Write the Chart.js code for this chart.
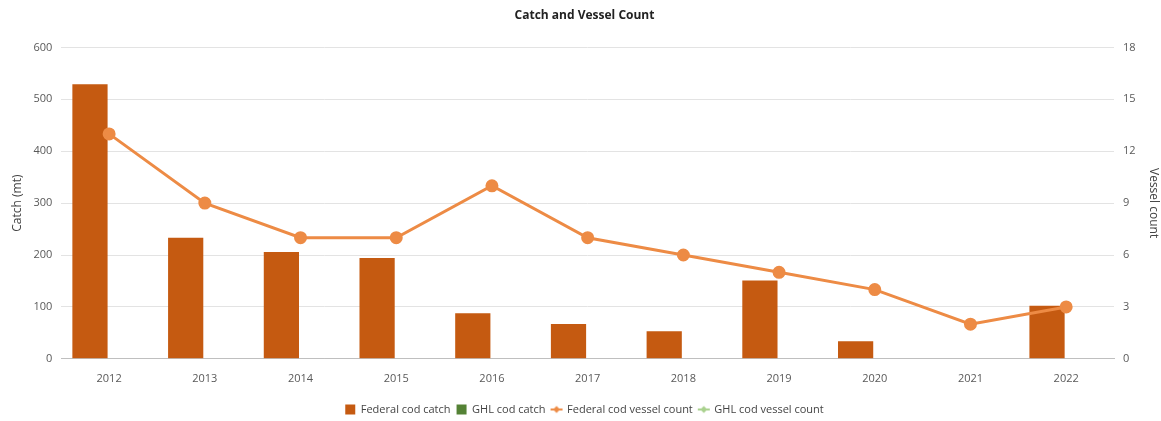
<!DOCTYPE html>
<html>
<head>
<meta charset="utf-8">
<script src="https://cdn.jsdelivr.net/npm/chart.js@4.4.1/dist/chart.umd.min.js"></script>
<style>
  html, body { margin: 0; padding: 0; background: #fff; }
  #wrap { width: 1161px; height: 421px; }
</style>
</head>
<body>
<div id="wrap"><canvas id="catchChart"></canvas></div>
<script>
// Data
const years = ['2012', '2013', '2014', '2015', '2016', '2017', '2018', '2019', '2020', '2021', '2022'];
const federalCatch = [529, 233, 206, 194, 88, 67, 53, 151, 34, 0, 102];
const ghlCatch = [0, 0, 0, 0, 0, 0, 0, 0, 0, 0, 0];
const federalVessels = [13, 9, 7, 7, 10, 7, 6, 5, 4, 2, 3];
const ghlVessels = [null, null, null, null, null, null, null, null, null, null, null];

const fedBarColor = '#c55a11';
const ghlBarColor = '#548235';
const fedLineColor = '#ed8b45';
const ghlLineColor = '#a9d18e';

// legend marker: short line with a dot
function lineMarker(color) {
    const c = document.createElement('canvas');
    c.width = 14; c.height = 10;
    const ctx = c.getContext('2d');
    ctx.strokeStyle = color;
    ctx.lineWidth = 2;
    ctx.beginPath();
    ctx.moveTo(1, 5); ctx.lineTo(13, 5);
    ctx.stroke();
    ctx.fillStyle = color;
    ctx.beginPath();
    ctx.moveTo(7, 1.5); ctx.lineTo(10.5, 5); ctx.lineTo(7, 8.5); ctx.lineTo(3.5, 5);
    ctx.closePath();
    ctx.fill();
    return c;
}

const fontFamily = "'Open Sans', 'Noto Sans', sans-serif";

const ctx = document.getElementById('catchChart').getContext('2d');
new Chart(ctx, {
    data: {
        labels: years,
        datasets: [
            {
                type: 'bar',
                label: 'Federal cod catch',
                data: federalCatch,
                backgroundColor: fedBarColor,
                yAxisID: 'y',
                order: 2
            },
            {
                type: 'bar',
                label: 'GHL cod catch',
                data: ghlCatch,
                backgroundColor: ghlBarColor,
                yAxisID: 'y',
                order: 2
            },
            {
                type: 'line',
                label: 'Federal cod vessel count',
                data: federalVessels,
                borderColor: fedLineColor,
                backgroundColor: fedLineColor,
                borderWidth: 3,
                pointRadius: 5,
                pointHoverRadius: 6,
                yAxisID: 'y1',
                order: 1
            },
            {
                type: 'line',
                label: 'GHL cod vessel count',
                data: ghlVessels,
                borderColor: ghlLineColor,
                backgroundColor: ghlLineColor,
                borderWidth: 3,
                pointRadius: 5,
                yAxisID: 'y1',
                order: 1
            }
        ]
    },
    options: {
        responsive: true,
        maintainAspectRatio: false,
        animation: false,
        layout: { padding: { left: 8, right: 0, top: 4, bottom: -4 } },
        datasets: {
            bar: { categoryPercentage: 0.8, barPercentage: 0.92 }
        },
        plugins: {
            title: {
                display: true,
                text: 'Catch and Vessel Count',
                color: '#222',
                font: { family: fontFamily, size: 12, weight: 'bold' },
                padding: { top: 4, bottom: 25 }
            },
            legend: {
                position: 'bottom',
                sort: (a, b) => a.datasetIndex - b.datasetIndex,
                labels: {
                    color: '#444',
                    font: { family: fontFamily, size: 11 },
                    usePointStyle: true,
                    boxWidth: 10,
                    boxHeight: 10,
                    padding: 6,
                    generateLabels: chart => {
                        const styles = [
                            { s: 'rect', c: fedBarColor },
                            { s: 'rect', c: ghlBarColor },
                            { s: lineMarker(fedLineColor), c: fedLineColor },
                            { s: lineMarker(ghlLineColor), c: ghlLineColor }
                        ];
                        return chart.data.datasets.map((ds, i) => ({
                            text: ds.label,
                            fillStyle: styles[i].c,
                            strokeStyle: styles[i].c,
                            lineWidth: 0,
                            pointStyle: styles[i].s,
                            hidden: !chart.isDatasetVisible(i),
                            datasetIndex: i,
                            fontColor: '#444'
                        }));
                    }
                }
            },
            tooltip: { enabled: true }
        },
        scales: {
            x: {
                grid: { display: false },
                border: { display: true, color: '#bfbfbf' },
                ticks: {
                    color: '#595959',
                    font: { family: fontFamily, size: 11 },
                    padding: 5
                },
                // extra room between year labels and legend
                afterFit: scale => { scale.height += 8; }
            },
            y: {
                position: 'left',
                min: 0,
                max: 600,
                ticks: {
                    stepSize: 100,
                    color: '#595959',
                    font: { family: fontFamily, size: 11 },
                    padding: 9
                },
                grid: {
                    color: ctx => ctx.tick.value === 0 ? '#bfbfbf' : '#e3e3e3',
                    drawTicks: false
                },
                border: { display: false },
                title: {
                    display: true,
                    text: 'Catch (mt)',
                    color: '#444',
                    font: { family: fontFamily, size: 12 },
                    padding: { top: 2, bottom: 0 }
                }
            },
            y1: {
                position: 'right',
                min: 0,
                max: 18,
                ticks: {
                    stepSize: 3,
                    color: '#595959',
                    font: { family: fontFamily, size: 11 },
                    padding: 9
                },
                grid: { display: false, drawOnChartArea: false, drawTicks: false },
                border: { display: false },
                title: {
                    display: true,
                    text: 'Vessel count',
                    color: '#444',
                    font: { family: fontFamily, size: 12 },
                    padding: { top: 0, bottom: 2 }
                }
            }
        }
    }
});
</script>
</body>
</html>
